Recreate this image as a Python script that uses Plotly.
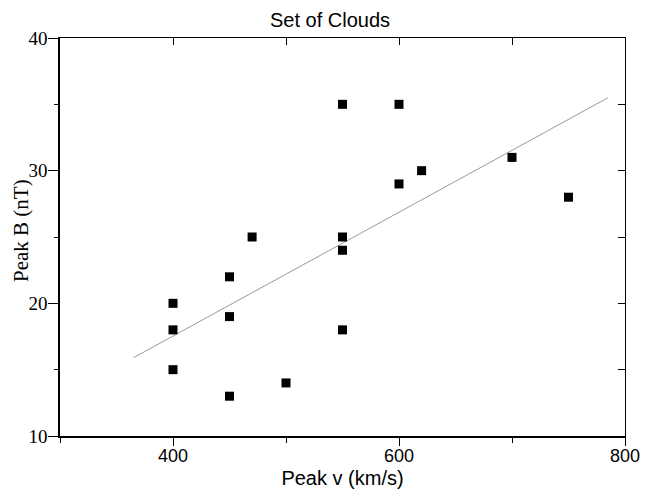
import plotly.graph_objects as go

# Data
peak_v = [400, 400, 400, 450, 450, 450, 470, 500, 550, 550, 550, 550, 600, 600, 620, 700, 750]
peak_b = [20, 18, 15, 22, 19, 13, 25, 14, 35, 25, 24, 18, 35, 29, 30, 31, 28]
fit_v = [365, 785]
fit_b = [15.9, 35.5]

x_range = [300, 800]
y_range = [10, 40]

W, H = 654, 496
L, R, T, B = 60, 29, 38, 60
pw, ph = W - L - R, H - T - B

fig = go.Figure()
fig.add_trace(go.Scatter(x=fit_v, y=fit_b, mode="lines",
                         line=dict(color="#9a9a9a", width=1), showlegend=False))
fig.add_trace(go.Scatter(x=peak_v, y=peak_b, mode="markers",
                         marker=dict(symbol="square", size=9, color="black"), showlegend=False))
fig.add_trace(go.Scatter(x=[None], y=[None], xaxis="x2", yaxis="y2", showlegend=False))

fig.update_layout(
    width=W, height=H,
    margin=dict(l=L, r=R, t=T, b=B, autoexpand=False),
    paper_bgcolor="white", plot_bgcolor="white",
    title=dict(text="Set of Clouds", x=330 / W, xanchor="center", y=1 - 20 / H, yanchor="middle",
               font=dict(family="Liberation Sans", size=20, color="black")),
    xaxis=dict(range=x_range, tick0=400, dtick=200, ticks="outside", ticklen=8, tickwidth=1.2,
               tickcolor="black", showline=True, linecolor="black", linewidth=1.5,
               showgrid=False, zeroline=False, automargin=False, ticklabelstandoff=-5,
               tickfont=dict(family="Liberation Sans", size=18, color="black"),
               minor=dict(dtick=100, tick0=300, ticks="outside", ticklen=5, tickcolor="black", tickwidth=1.2),
               title=dict(text="Peak v (km/s)", standoff=6,
                          font=dict(family="Liberation Sans", size=20, color="black"))),
    yaxis=dict(range=y_range, tick0=10, dtick=10, ticks="outside", ticklen=10, tickwidth=1.2,
               tickcolor="black", showline=True, linecolor="black", linewidth=1.5,
               showgrid=False, zeroline=False, automargin=False, ticklabelstandoff=-3,
               tickfont=dict(family="Liberation Serif", size=19, color="black"),
               minor=dict(dtick=5, ticks="outside", ticklen=4, tickcolor="black", tickwidth=1.2)),
    xaxis2=dict(range=x_range, overlaying="x", side="top", anchor="y", tick0=300, dtick=100,
                ticks="inside", ticklen=7, tickcolor="black", tickwidth=1.2,
                showticklabels=False, showline=True, linecolor="black", linewidth=1,
                showgrid=False, zeroline=False, automargin=False),
    yaxis2=dict(range=y_range, overlaying="y", side="right", anchor="x", tick0=10, dtick=5,
                ticks="inside", ticklen=7, tickcolor="black", tickwidth=1.2,
                showticklabels=False, showline=True, linecolor="black", linewidth=1,
                showgrid=False, zeroline=False, automargin=False),
    annotations=[dict(text="Peak B (nT)", xref="paper", yref="paper",
                      x=(21 - L) / pw, y=(H - B - 231) / ph, xanchor="center", yanchor="middle",
                      textangle=-90, showarrow=False,
                      font=dict(family="Liberation Serif", size=21, color="black"))],
)

fig.write_html("out.html", config={"displayModeBar": False},
               post_script="document.body.style.margin='0';")
